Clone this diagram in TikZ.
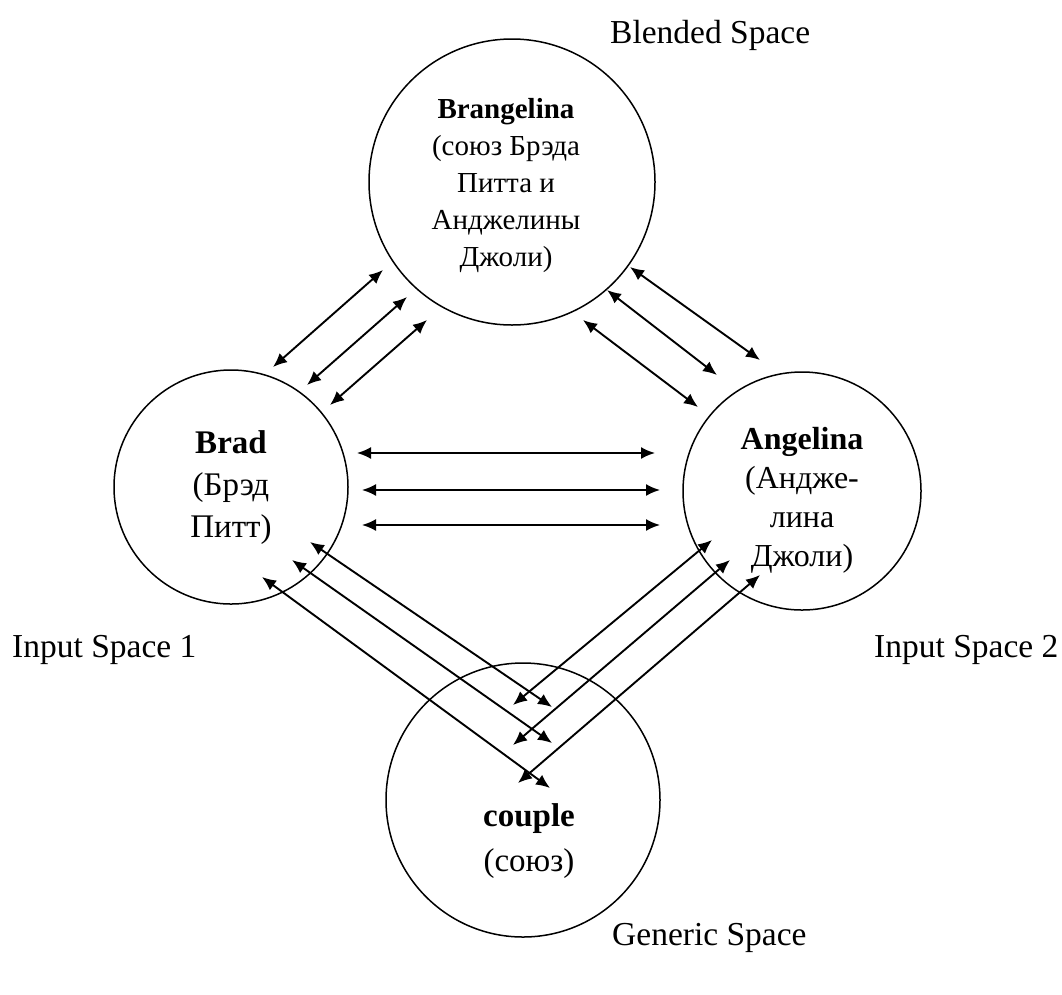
\documentclass[tikz,border=0pt]{standalone}
\usepackage{fontspec}
\setmainfont{Liberation Serif}
\usetikzlibrary{arrows.meta}
\begin{document}
\begin{tikzpicture}[x=1pt,y=-1pt,
  space/.style={draw, circle, line width=1.5pt, inner sep=0pt},
  link/.style={line width=1.9pt, {Latex[length=14pt,width=12pt]}-{Latex[length=14pt,width=12pt]}},
  lbl/.style={font=\fontsize{33.5}{40}\selectfont, anchor=base west, inner sep=0pt},
  ctext/.style={align=center, anchor=north, inner sep=0pt}]
\useasboundingbox (0,0) rectangle (1062,994);
% spaces
\node[space, minimum size=286pt] (T) at (512,182) {};
\node[space, minimum size=234pt] (L) at (231,487) {};
\node[space, minimum size=238pt] (R) at (802,491) {};
\node[space, minimum size=274pt] (B) at (523,800) {};
% texts in spaces
\node[ctext, font=\fontsize{29}{37}\selectfont] (Ttxt) at (506,98)
  {\textbf{Brangelina}\\(союз Брэда\\Питта и\\Анджелины\\Джоли)};
\node[ctext, font=\fontsize{33}{42}\selectfont] (Ltxt) at (231,430)
  {\textbf{Brad}\\(Брэд\\Питт)};
\node[ctext, font=\fontsize{32}{39}\selectfont] (Rtxt) at (802,427)
  {\textbf{Angelina}\\(Андже-\\лина\\Джоли)};
\node[ctext, font=\fontsize{33}{45}\selectfont] (Btxt) at (529,803)
  {\textbf{couple}\\(союз)};
% labels
\node[lbl] (blended) at (610,43) {Blended Space};
\node[lbl] (in1) at (12,657) {Input Space 1};
\node[lbl] (in2) at (874,657) {Input Space 2};
\node[lbl] (generic) at (612,945) {Generic Space};
% connector end points
\coordinate (a1s) at (273,367); \coordinate (a1e) at (383,270);
\coordinate (a2s) at (307,385); \coordinate (a2e) at (407,297);
\coordinate (a3s) at (330,405); \coordinate (a3e) at (427,320);
\coordinate (b1s) at (630,267); \coordinate (b1e) at (760,360);
\coordinate (b2s) at (607,290); \coordinate (b2e) at (717,375);
\coordinate (b3s) at (583,320); \coordinate (b3e) at (698,407);
\coordinate (c1s) at (357,453); \coordinate (c1e) at (655,453);
\coordinate (c2s) at (362,490); \coordinate (c2e) at (660,490);
\coordinate (c3s) at (362,525); \coordinate (c3e) at (660,525);
\coordinate (d1s) at (310,542); \coordinate (d1e) at (552,707);
\coordinate (d2s) at (292,560); \coordinate (d2e) at (552,743);
\coordinate (d3s) at (262,577); \coordinate (d3e) at (550,788);
\coordinate (e1s) at (712,540); \coordinate (e1e) at (513,705);
\coordinate (e2s) at (730,560); \coordinate (e2e) at (513,745);
\coordinate (e3s) at (760,575); \coordinate (e3e) at (518,783);
% connectors
\foreach \g in {a,b,c,d,e}{
  \foreach \i in {1,2,3}{
    \draw[link] (\g\i s) -- (\g\i e);
  }
}
\end{tikzpicture}
\end{document}
